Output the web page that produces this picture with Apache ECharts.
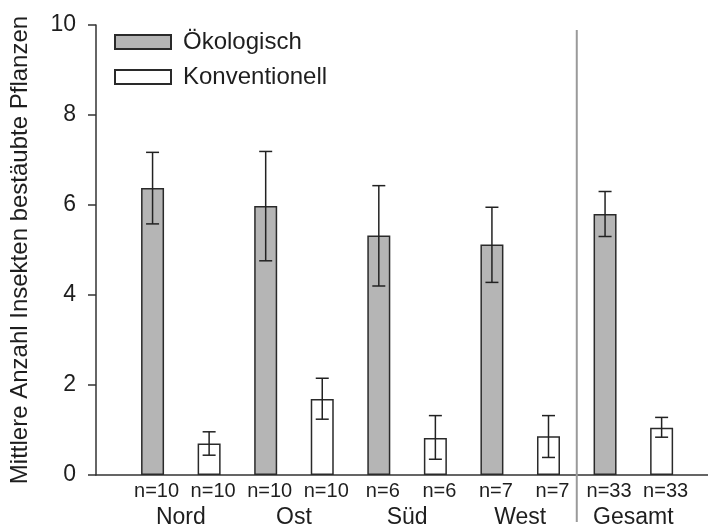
<!DOCTYPE html>
<html>
<head>
<meta charset="utf-8">
<script src="https://cdn.jsdelivr.net/npm/echarts@6/dist/echarts.min.js"></script>
<style>
  html, body { margin: 0; padding: 0; background: #fff; }
  #chart { width: 708px; height: 529px; }
</style>
</head>
<body>
<div id="chart"></div>
<script>
// Werte
const regions = ['Nord', 'Ost', 'Süd', 'West', 'Gesamt'];
const nLabels = ['n=10', 'n=10', 'n=10', 'n=10', 'n=6', 'n=6', 'n=7', 'n=7', 'n=33', 'n=33'];
const oekoMean = [6.38, 5.98, 5.32, 5.12, 5.80];
const oekoLow = [5.58, 4.76, 4.20, 4.28, 5.30];
const oekoHigh = [7.17, 7.19, 6.43, 5.95, 6.30];
const konvMean = [0.70, 1.69, 0.82, 0.86, 1.05];
const konvLow = [0.44, 1.24, 0.35, 0.39, 0.84];
const konvHigh = [0.96, 2.15, 1.32, 1.32, 1.28];
const yTicks = [0, 2, 4, 6, 8, 10];

const FONT = 'Liberation Sans, Arial, sans-serif';
const TXT = '#1e1e1e';

let chart = echarts.init(document.getElementById('chart'));

// x-Positionen: Paar i liegt auf 2i+1 und 2i+2
const oekoData = oekoMean.map((v, i) => [2 * i + 1, v]);
const konvData = konvMean.map((v, i) => [2 * i + 2, v]);
const errData = [];
oekoMean.forEach((v, i) => errData.push([2 * i + 1, oekoLow[i], oekoHigh[i]]));
konvMean.forEach((v, i) => errData.push([2 * i + 2, konvLow[i], konvHigh[i]]));
const regionData = regions.map((r, i) => [2 * i + 1.5, 0, r]);

function renderErr(params, api) {
    let top = api.coord([api.value(0), api.value(2)]);
    let bot = api.coord([api.value(0), api.value(1)]);
    let half = 6.5;
    let style = {stroke: '#222', lineWidth: 1.5};
    return {
        type: 'group',
        children: [
            {type: 'line', shape: {x1: top[0], y1: top[1], x2: bot[0], y2: bot[1]}, style: style},
            {type: 'line', shape: {x1: top[0] - half, y1: top[1], x2: top[0] + half, y2: top[1]}, style: style},
            {type: 'line', shape: {x1: bot[0] - half, y1: bot[1], x2: bot[0] + half, y2: bot[1]}, style: style}
        ]
    };
}

function renderRegion(params, api) {
    let p = api.coord([api.value(0), 0]);
    return {
        type: 'text',
        x: p[0],
        y: p[1] + 43,
        style: {
            text: regions[params.dataIndex],
            fill: TXT,
            font: '23px ' + FONT,
            align: 'center',
            verticalAlign: 'middle'
        }
    };
}

// Trennlinie zwischen Regionen und Gesamt
function renderDivider(params, api) {
    let top = api.coord([api.value(0), 10]);
    let bot = api.coord([api.value(0), 0]);
    return {
        type: 'line',
        shape: {x1: top[0], y1: top[1] + 5, x2: bot[0], y2: bot[1] + 47},
        style: {stroke: '#9a9a9a', lineWidth: 2}
    };
}

option = {
    animation: false,
    backgroundColor: '#fff',
    textStyle: {fontFamily: FONT},
    grid: {left: 96, right: 0, top: 25, bottom: 54},
    legend: {
        orient: 'vertical',
        left: 109,
        top: 25,
        icon: 'rect',
        itemWidth: 56,
        itemHeight: 14,
        itemGap: 11,
        data: ['Ökologisch', 'Konventionell'],
        textStyle: {fontSize: 24, color: TXT, fontFamily: FONT, padding: [0, 0, 0, 7]}
    },
    xAxis: {
        type: 'value',
        min: 0,
        max: 10.82,
        interval: 1,
        splitLine: {show: false},
        axisTick: {show: false},
        axisLine: {show: true, lineStyle: {color: '#333', width: 1.5}},
        axisLabel: {
            fontSize: 20,
            color: TXT,
            margin: 6,
            padding: [0, 0, 0, 8],
            showMaxLabel: false,
            formatter: function (v) {
                return (v >= 1 && v <= 10) ? nLabels[v - 1] : '';
            }
        }
    },
    yAxis: {
        type: 'value',
        min: 0,
        max: 10,
        interval: 2,
        name: 'Mittlere Anzahl Insekten bestäubte Pflanzen',
        nameLocation: 'middle',
        nameGap: 64,
        nameTextStyle: {fontSize: 24, color: TXT, fontFamily: FONT},
        splitLine: {show: false},
        axisLine: {show: true, lineStyle: {color: '#333', width: 1.5}},
        axisTick: {show: true, length: 8, lineStyle: {color: '#333', width: 1.5}},
        axisLabel: {
            fontSize: 23,
            color: TXT,
            margin: 20,
            formatter: function (v) {
                return yTicks.indexOf(v) >= 0 ? String(v) : '';
            }
        }
    },
    series: [
        {
            name: 'Ökologisch',
            type: 'bar',
            barWidth: 23,
            data: oekoData,
            itemStyle: {color: '#b5b5b5', borderColor: '#2a2a2a', borderWidth: 1.5}
        },
        {
            name: 'Konventionell',
            type: 'bar',
            barWidth: 23,
            barGap: '-100%',
            data: konvData,
            itemStyle: {color: '#ffffff', borderColor: '#2a2a2a', borderWidth: 1.5}
        },
        {
            name: 'err',
            type: 'custom',
            renderItem: renderErr,
            data: errData,
            z: 5
        },
        {
            name: 'regions',
            type: 'custom',
            renderItem: renderRegion,
            clip: false,
            data: regionData
        },
        {
            name: 'divider',
            type: 'custom',
            renderItem: renderDivider,
            clip: false,
            data: [[8.5, 0]]
        }
    ]
};

chart.setOption(option);
</script>
</body>
</html>
